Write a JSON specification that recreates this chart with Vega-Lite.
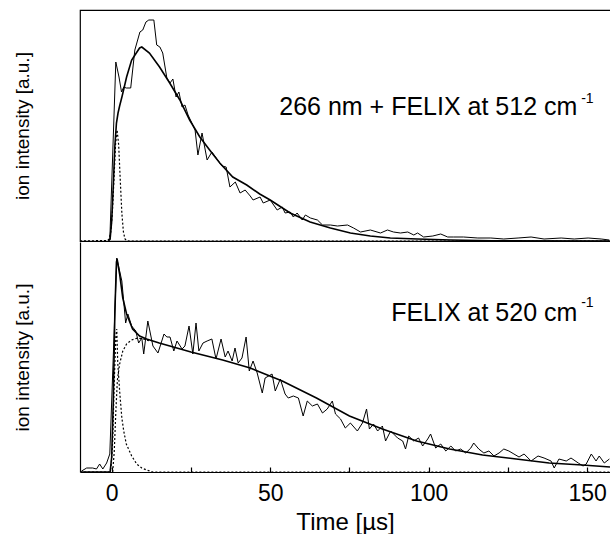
{
 "$schema": "https://vega.github.io/schema/vega-lite/v6.json",
 "padding": {"left": 12, "top": 9, "right": 0, "bottom": 0},
 "background": "white",
 "spacing": 0,
 "config": {
  "view": {"stroke": null},
  "font": "Liberation Sans",
  "axis": {"domainColor": "black", "domainWidth": 1.2, "grid": false, "labelFont": "Liberation Sans", "titleFont": "Liberation Sans", "labelColor": "black", "titleColor": "black", "titleFontWeight": "normal"}
 },
 "datasets": {
  "top_data": [
   {"t": -0.6, "v": 1}, {"t": 1.3, "v": 179}, {"t": 2.3, "v": 164}, {"t": 3.1, "v": 149}, {"t": 3.8, "v": 154}, {"t": 4.6, "v": 153}, {"t": 6.0, "v": 153}, {"t": 7.3, "v": 191}, {"t": 8.9, "v": 209}, {"t": 9.8, "v": 211}, {"t": 10.8, "v": 219}, {"t": 11.7, "v": 221}, {"t": 13.3, "v": 221}, {"t": 14.2, "v": 196}, {"t": 15.2, "v": 194}, {"t": 16.1, "v": 188}, {"t": 17.4, "v": 163}, {"t": 18.4, "v": 158}, {"t": 19.3, "v": 162}, {"t": 20.3, "v": 144}, {"t": 21.2, "v": 149}, {"t": 22.2, "v": 134}, {"t": 23.1, "v": 136}, {"t": 24.1, "v": 126}, {"t": 26.3, "v": 111}, {"t": 27.2, "v": 86}, {"t": 28.5, "v": 108}, {"t": 30.1, "v": 81}, {"t": 31.6, "v": 89}, {"t": 33.2, "v": 82}, {"t": 34.8, "v": 75}, {"t": 36.1, "v": 74}, {"t": 37.3, "v": 54}, {"t": 39.0, "v": 59}, {"t": 40.5, "v": 48}, {"t": 42.1, "v": 51}, {"t": 43.7, "v": 45}, {"t": 44.6, "v": 41}, {"t": 46.8, "v": 44}, {"t": 47.8, "v": 38}, {"t": 50, "v": 41}, {"t": 52.2, "v": 31}, {"t": 53.8, "v": 34}, {"t": 54.7, "v": 28}, {"t": 56.3, "v": 29}, {"t": 57.3, "v": 24}, {"t": 58.5, "v": 28}, {"t": 60.1, "v": 21}, {"t": 61.1, "v": 26}, {"t": 62.7, "v": 23}, {"t": 64.9, "v": 21}, {"t": 66.5, "v": 16}, {"t": 69, "v": 16}, {"t": 71.2, "v": 15}, {"t": 74.4, "v": 16}, {"t": 76.3, "v": 13}, {"t": 78.5, "v": 9}, {"t": 81.6, "v": 11}, {"t": 84.8, "v": 8}, {"t": 87, "v": 11}, {"t": 88.9, "v": 9}, {"t": 91.1, "v": 8}, {"t": 93.4, "v": 9}, {"t": 95.3, "v": 6}, {"t": 96.5, "v": 8}, {"t": 98.4, "v": 4}, {"t": 101.3, "v": 5}, {"t": 103.8, "v": 7}, {"t": 106, "v": 4}, {"t": 107.9, "v": 4}, {"t": 111, "v": 4}, {"t": 115.5, "v": 3}, {"t": 119.6, "v": 3}, {"t": 123.7, "v": 2}, {"t": 128.2, "v": 3}, {"t": 132.3, "v": 4}, {"t": 136.4, "v": 2}, {"t": 141.8, "v": 3}, {"t": 145.9, "v": 2}, {"t": 150.3, "v": 3}, {"t": 154.4, "v": 2}, {"t": 157, "v": 1}
  ],
  "top_fit": [
   {"t": -1, "v": 0}, {"t": -0.5, "v": 2}, {"t": 0, "v": 20}, {"t": 0.5, "v": 55}, {"t": 1.0, "v": 95}, {"t": 1.5, "v": 118}, {"t": 2.0, "v": 128}, {"t": 2.5, "v": 135}, {"t": 3.3, "v": 145}, {"t": 4.7, "v": 164}, {"t": 6.3, "v": 181}, {"t": 8.8, "v": 193}, {"t": 9.5, "v": 194}, {"t": 11.9, "v": 188}, {"t": 15.1, "v": 174}, {"t": 18.3, "v": 158}, {"t": 21.5, "v": 141}, {"t": 24.6, "v": 121}, {"t": 27.8, "v": 104}, {"t": 30.9, "v": 91}, {"t": 34.1, "v": 78}, {"t": 38.2, "v": 64}, {"t": 42.6, "v": 56}, {"t": 46.7, "v": 47}, {"t": 50, "v": 41}, {"t": 56.3, "v": 28}, {"t": 62.6, "v": 19}, {"t": 69, "v": 13}, {"t": 75.3, "v": 8}, {"t": 81.6, "v": 5}, {"t": 87.9, "v": 3}, {"t": 96.5, "v": 2}, {"t": 107, "v": 1}, {"t": 120, "v": 0.3}, {"t": 157, "v": 0}
  ],
  "top_g": [
   {"t": -10, "v": 0}, {"t": -1.3, "v": 0.5}, {"t": -0.8, "v": 2}, {"t": -0.3, "v": 9}, {"t": 0.2, "v": 28}, {"t": 0.7, "v": 61}, {"t": 1.2, "v": 96}, {"t": 1.7, "v": 111}, {"t": 2.2, "v": 96}, {"t": 2.7, "v": 61}, {"t": 3.2, "v": 28}, {"t": 3.7, "v": 9}, {"t": 4.2, "v": 2}, {"t": 4.7, "v": 0.5}, {"t": 5.5, "v": 0}, {"t": 157.5, "v": 0}
  ],
  "bot_data": [
   {"t": -9.5, "v": 1}, {"t": -7.9, "v": 4}, {"t": -6, "v": 4}, {"t": -4.8, "v": 3}, {"t": -3.8, "v": 8}, {"t": -2.8, "v": 3}, {"t": -1.6, "v": 9}, {"t": -0.6, "v": 18}, {"t": 1.6, "v": 214}, {"t": 3.2, "v": 191}, {"t": 4.4, "v": 149}, {"t": 5.1, "v": 158}, {"t": 6.3, "v": 146}, {"t": 7.6, "v": 141}, {"t": 8.5, "v": 129}, {"t": 9.5, "v": 134}, {"t": 10.1, "v": 118}, {"t": 11.4, "v": 151}, {"t": 13, "v": 126}, {"t": 14.6, "v": 119}, {"t": 16.5, "v": 138}, {"t": 17.4, "v": 135}, {"t": 18.4, "v": 135}, {"t": 19.6, "v": 121}, {"t": 20.6, "v": 131}, {"t": 22.2, "v": 123}, {"t": 23.1, "v": 126}, {"t": 24.4, "v": 146}, {"t": 25.6, "v": 118}, {"t": 26.6, "v": 149}, {"t": 27.5, "v": 121}, {"t": 28.8, "v": 129}, {"t": 30.1, "v": 131}, {"t": 31.6, "v": 133}, {"t": 32.9, "v": 113}, {"t": 34.5, "v": 133}, {"t": 35.8, "v": 115}, {"t": 36.7, "v": 121}, {"t": 38, "v": 111}, {"t": 38.9, "v": 124}, {"t": 39.9, "v": 109}, {"t": 41.1, "v": 114}, {"t": 42.4, "v": 135}, {"t": 43.4, "v": 101}, {"t": 44.6, "v": 111}, {"t": 45.9, "v": 99}, {"t": 47.5, "v": 79}, {"t": 48.4, "v": 94}, {"t": 50.6, "v": 98}, {"t": 51.6, "v": 81}, {"t": 53.2, "v": 93}, {"t": 54.7, "v": 78}, {"t": 55.7, "v": 74}, {"t": 57.3, "v": 76}, {"t": 58.9, "v": 74}, {"t": 60.4, "v": 56}, {"t": 61.7, "v": 71}, {"t": 63.3, "v": 66}, {"t": 64.9, "v": 68}, {"t": 66.5, "v": 59}, {"t": 68, "v": 63}, {"t": 69.6, "v": 71}, {"t": 70.6, "v": 58}, {"t": 72.2, "v": 53}, {"t": 73.7, "v": 44}, {"t": 75.3, "v": 49}, {"t": 77.5, "v": 41}, {"t": 79.1, "v": 49}, {"t": 80.4, "v": 63}, {"t": 81.3, "v": 43}, {"t": 82.6, "v": 48}, {"t": 83.9, "v": 41}, {"t": 85.4, "v": 46}, {"t": 86.4, "v": 31}, {"t": 88, "v": 41}, {"t": 90.2, "v": 34}, {"t": 91.8, "v": 31}, {"t": 92.7, "v": 23}, {"t": 93.7, "v": 36}, {"t": 95.3, "v": 31}, {"t": 96.8, "v": 34}, {"t": 98.1, "v": 26}, {"t": 99.7, "v": 33}, {"t": 100.6, "v": 38}, {"t": 102.2, "v": 24}, {"t": 103.8, "v": 28}, {"t": 105.4, "v": 21}, {"t": 107, "v": 26}, {"t": 108.5, "v": 21}, {"t": 110.1, "v": 23}, {"t": 111.7, "v": 19}, {"t": 113.3, "v": 24}, {"t": 114.2, "v": 29}, {"t": 115.8, "v": 23}, {"t": 117.4, "v": 19}, {"t": 119, "v": 21}, {"t": 120.6, "v": 16}, {"t": 122.2, "v": 19}, {"t": 123.7, "v": 23}, {"t": 125.3, "v": 21}, {"t": 126.9, "v": 18}, {"t": 128.5, "v": 15}, {"t": 130.1, "v": 18}, {"t": 132.3, "v": 11}, {"t": 134.5, "v": 16}, {"t": 136.4, "v": 14}, {"t": 138.6, "v": 11}, {"t": 139.6, "v": 4}, {"t": 141.1, "v": 13}, {"t": 143.4, "v": 11}, {"t": 144.9, "v": 14}, {"t": 147.2, "v": 9}, {"t": 148.7, "v": 6}, {"t": 149.7, "v": 8}, {"t": 151.3, "v": 18}, {"t": 152.8, "v": 11}, {"t": 153.8, "v": 16}, {"t": 155.4, "v": 9}, {"t": 157, "v": 13}
  ],
  "bot_fit": [
   {"t": -10, "v": 0}, {"t": -0.5, "v": 0}, {"t": 0, "v": 15}, {"t": 0.5, "v": 70}, {"t": 1.0, "v": 160}, {"t": 1.5, "v": 210}, {"t": 1.7, "v": 213}, {"t": 2.5, "v": 198}, {"t": 3.5, "v": 174}, {"t": 4.7, "v": 158}, {"t": 6.6, "v": 143}, {"t": 8.8, "v": 136}, {"t": 11, "v": 133}, {"t": 15, "v": 129}, {"t": 25, "v": 120}, {"t": 35, "v": 112}, {"t": 43.7, "v": 104}, {"t": 53.8, "v": 91}, {"t": 64.6, "v": 74}, {"t": 75, "v": 56}, {"t": 85.4, "v": 43}, {"t": 96.2, "v": 31}, {"t": 106.6, "v": 23}, {"t": 117, "v": 17}, {"t": 127.6, "v": 13}, {"t": 138, "v": 9}, {"t": 148.5, "v": 7}, {"t": 157.2, "v": 5}
  ],
  "bot_g": [
   {"t": -10, "v": 0}, {"t": -0.6, "v": 0}, {"t": -0.2, "v": 5}, {"t": 0.3, "v": 30}, {"t": 0.8, "v": 90}, {"t": 1.3, "v": 135}, {"t": 1.6, "v": 143}, {"t": 1.9, "v": 110}, {"t": 2.5, "v": 81}, {"t": 3.2, "v": 54}, {"t": 3.8, "v": 41}, {"t": 4.6, "v": 28}, {"t": 6.3, "v": 16}, {"t": 7.9, "v": 8}, {"t": 9.5, "v": 4}, {"t": 11, "v": 2}, {"t": 13, "v": 0}, {"t": 157.2, "v": 0}
  ],
  "bot_slow": [
   {"t": 0.3, "v": 0}, {"t": 0.8, "v": 20}, {"t": 1.3, "v": 60}, {"t": 1.8, "v": 92}, {"t": 2.5, "v": 108}, {"t": 3.5, "v": 121}, {"t": 4.7, "v": 128}, {"t": 6.3, "v": 132}, {"t": 8.2, "v": 134}, {"t": 10, "v": 133}, {"t": 12, "v": 131}
  ],
  "top_label": [{"t": 146.9, "v": 126, "txt": "266 nm + FELIX at 512 cm"}],
  "top_sup": [{"t": 148.1, "v": 138, "txt": "-1"}],
  "bot_label": [{"t": 146.9, "v": 151, "txt": "FELIX at 520 cm"}],
  "bot_sup": [{"t": 148.1, "v": 165, "txt": "-1"}]
 },
 "resolve": {"scale": {"x": "independent"}},
 "vconcat": [
  {
   "width": 531,
   "height": 231,
   "view": {"stroke": "black", "strokeWidth": 1.2},
   "encoding": {
    "x": {"field": "t", "type": "quantitative", "scale": {"domain": [-10, 157.515], "nice": false, "zero": false}, "axis": null},
    "y": {"field": "v", "type": "quantitative", "scale": {"domain": [0, 231], "nice": false}, "axis": {"title": "ion intensity [a.u.]", "labels": false, "ticks": false, "domain": false, "titlePadding": 48, "titleFontSize": 19}}
   },
   "layer": [
    {"data": {"name": "top_g"}, "mark": {"type": "line", "stroke": "black", "strokeWidth": 1.2, "strokeDash": [2, 2], "clip": true}},
    {"data": {"name": "top_data"}, "mark": {"type": "line", "stroke": "black", "strokeWidth": 1, "clip": true}},
    {"data": {"name": "top_fit"}, "mark": {"type": "line", "stroke": "black", "strokeWidth": 1.6, "clip": true}},
    {"data": {"name": "top_label"}, "mark": {"type": "text", "align": "right", "baseline": "alphabetic", "fontSize": 25, "font": "Liberation Sans", "color": "black"}, "encoding": {"text": {"field": "txt"}}},
    {"data": {"name": "top_sup"}, "mark": {"type": "text", "align": "left", "baseline": "alphabetic", "fontSize": 14, "font": "Liberation Sans", "color": "black"}, "encoding": {"text": {"field": "txt"}}}
   ]
  },
  {
   "width": 530,
   "height": 230,
   "encoding": {
    "x": {"field": "t", "type": "quantitative", "scale": {"domain": [-10, 157.2], "nice": false, "zero": false}, "axis": {"title": "Time [µs]", "titleFontSize": 24, "titlePadding": 5, "values": [0, 25, 50, 75, 100, 125, 150], "labelExpr": "datum.value % 50 === 0 ? datum.label : ''", "labelFontSize": 23, "tickSize": -5, "tickColor": "black", "tickWidth": 1.2, "labelPadding": 15, "labelFlush": false}},
    "y": {"field": "v", "type": "quantitative", "scale": {"domain": [0, 230], "nice": false}, "axis": {"title": "ion intensity [a.u.]", "labels": false, "ticks": false, "titlePadding": 48, "titleFontSize": 19}}
   },
   "layer": [
    {"data": {"name": "bot_g"}, "mark": {"type": "line", "stroke": "black", "strokeWidth": 1.2, "strokeDash": [2, 2], "clip": true}},
    {"data": {"name": "bot_slow"}, "mark": {"type": "line", "stroke": "black", "strokeWidth": 1.2, "strokeDash": [2, 2], "clip": true}},
    {"data": {"name": "bot_data"}, "mark": {"type": "line", "stroke": "black", "strokeWidth": 1, "clip": true}},
    {"data": {"name": "bot_fit"}, "mark": {"type": "line", "stroke": "black", "strokeWidth": 1.6, "clip": true}},
    {"data": {"name": "bot_label"}, "mark": {"type": "text", "align": "right", "baseline": "alphabetic", "fontSize": 25, "font": "Liberation Sans", "color": "black"}, "encoding": {"text": {"field": "txt"}}},
    {"data": {"name": "bot_sup"}, "mark": {"type": "text", "align": "left", "baseline": "alphabetic", "fontSize": 14, "font": "Liberation Sans", "color": "black"}, "encoding": {"text": {"field": "txt"}}}
   ]
  }
 ]
}
